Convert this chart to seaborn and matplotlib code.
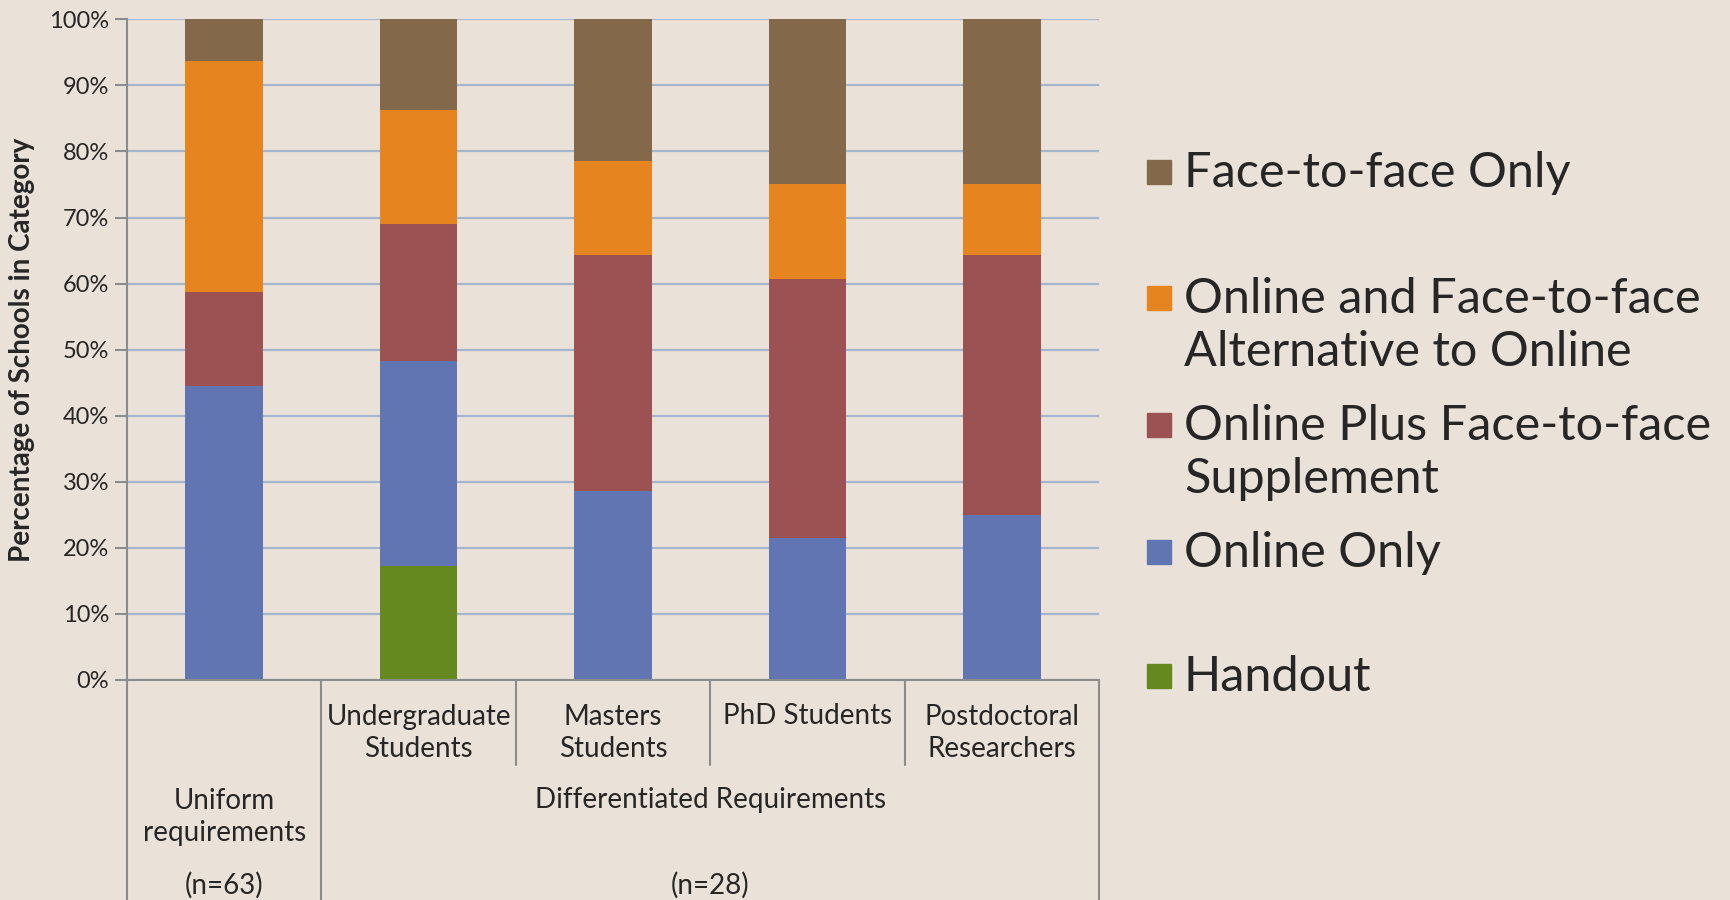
import matplotlib
matplotlib.use('Agg')
import matplotlib.pyplot as plt
from matplotlib.lines import Line2D
from matplotlib.patches import Rectangle
import seaborn as sns

# data (percent of schools in each group)
groups = ['Uniform requirements', 'Undergraduate Students', 'Masters Students',
          'PhD Students', 'Postdoctoral Researchers']
sub_labels = ['', 'Undergraduate\nStudents', 'Masters\nStudents', 'PhD Students',
              'Postdoctoral\nResearchers']
handout = [0.0, 17.24, 0.0, 0.0, 0.0]
online_only = [44.44, 31.03, 28.57, 21.43, 25.0]
online_plus = [14.29, 20.69, 35.71, 39.29, 39.29]
online_alt = [34.92, 17.24, 14.29, 14.29, 10.71]
f2f_only = [6.35, 13.79, 21.43, 25.0, 25.0]

series_names = ['Handout', 'Online Only', 'Online Plus Face-to-face\nSupplement',
                'Online and Face-to-face\nAlternative to Online', 'Face-to-face Only']
series_values = [handout, online_only, online_plus, online_alt, f2f_only]
series_colors = ['#66891F', '#6075B2', '#9C5153', '#E6841F', '#836849']

bg = '#EAE2D9'
axis_grey = '#8C8C8C'

sns.set_theme(style='white', rc={'axes.facecolor': bg, 'figure.facecolor': bg})
plt.rcParams['font.family'] = ['Lato', 'DejaVu Sans']

fig = plt.figure(figsize=(17.3, 9), dpi=100)
ax = fig.add_axes([127 / 1730, 1 - 680 / 900, 972 / 1730, 660.7 / 900])

# stacked bars: draw cumulative totals from the top layer down
cum = []
running = [0.0] * len(groups)
for vals in series_values:
    running = [r + v for r, v in zip(running, vals)]
    cum.append(list(running))

for name, tops, color in reversed(list(zip(series_names, cum, series_colors))):
    sns.barplot(x=groups, y=tops, color=color, saturation=1, width=0.4,
                errorbar=None, linewidth=0, ax=ax, order=groups)

ax.set_ylim(0, 100)
ax.set_xlim(-0.5, len(groups) - 0.5)
ax.set_yticks(range(0, 101, 10))
ax.set_yticklabels([f'{t}%' for t in range(0, 101, 10)], fontsize=17)
ax.set_xticks([])
ax.yaxis.grid(True, color='#A3B6CD', lw=1.6)
ax.set_axisbelow(True)
for side in ['top', 'right']:
    ax.spines[side].set_visible(False)
ax.spines['left'].set_color(axis_grey)
ax.spines['bottom'].set_color(axis_grey)
ax.spines['left'].set_linewidth(1.5)
ax.spines['bottom'].set_linewidth(1.5)
ax.tick_params(axis='y', left=True, length=9, width=1.5, color=axis_grey, pad=4)
ax.set_ylabel('')
ax.set_xlabel('')
fig.text(22 / 1730, 1 - 350 / 900, 'Percentage of Schools in Category', rotation=90,
         ha='center', va='center', fontsize=20, fontweight='bold')

# two-level category axis below the plot
trans = ax.get_xaxis_transform()
frac = lambda ypix: (680 - ypix) / 660.7
for xb in [-0.5, 0.5, 4.5]:
    ax.add_line(Line2D([xb, xb], [0, frac(900)], transform=trans, color=axis_grey,
                       lw=1.5, clip_on=False))
for xb in [1.5, 2.5, 3.5]:
    ax.add_line(Line2D([xb, xb], [0, frac(765)], transform=trans, color=axis_grey,
                       lw=1.5, clip_on=False))

for i, lab in enumerate(sub_labels):
    if lab:
        ypix = 733 if '\n' in lab else 716
        ax.text(i, frac(ypix), lab, transform=trans, ha='center', va='center',
                fontsize=20, linespacing=1.25)
ax.text(0, frac(817), 'Uniform\nrequirements', transform=trans, ha='center',
        va='center', fontsize=20, linespacing=1.25)
ax.text(0, frac(885), '(n=63)', transform=trans, ha='center', va='center', fontsize=20)
ax.text(2.5, frac(800), 'Differentiated Requirements', transform=trans, ha='center',
        va='center', fontsize=20)
ax.text(2.5, frac(885), '(n=28)', transform=trans, ha='center', va='center', fontsize=20)

# legend, top entry first
legend_y = [172, 298, 425, 552, 676]
for name, color, ypix in zip(reversed(series_names), reversed(series_colors), legend_y):
    fig.patches.append(Rectangle((1147 / 1730, 1 - (ypix + 12) / 900), 24 / 1730, 24 / 900,
                                 transform=fig.transFigure, color=color))
    fig.text(1184 / 1730, 1 - (ypix - 21) / 900, name, ha='left', va='top',
             fontsize=35, linespacing=1.25)

fig.savefig('out.png', dpi=100, facecolor=bg)
